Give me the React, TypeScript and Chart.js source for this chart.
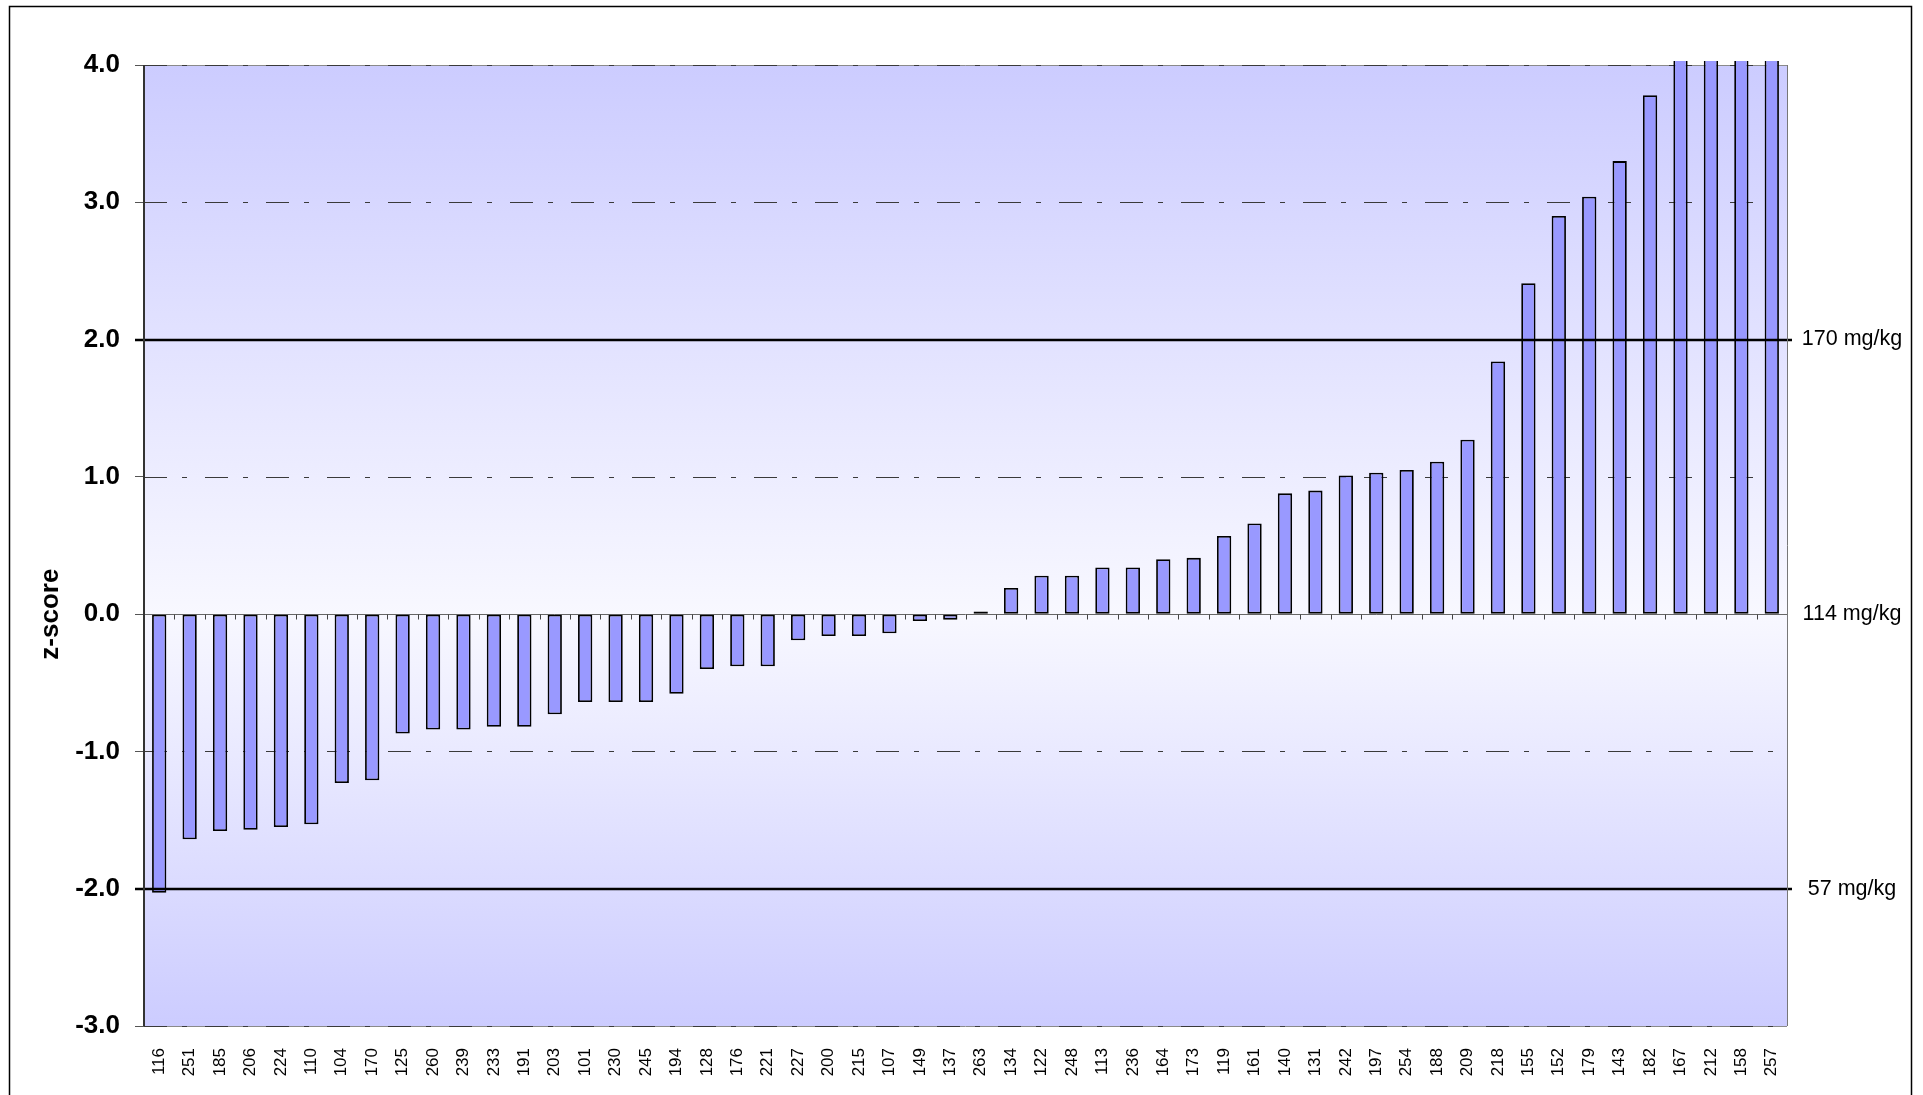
import React, { useEffect, useRef } from 'react';
import { Chart, registerables } from 'chart.js';

Chart.register(...registerables);

// ---- data ----
const categories = [
  '116', '251', '185', '206', '224', '110', '104', '170', '125', '260',
  '239', '233', '191', '203', '101', '230', '245', '194', '128', '176',
  '221', '227', '200', '215', '107', '149', '137', '263', '134', '122',
  '248', '113', '236', '164', '173', '119', '161', '140', '131', '242',
  '197', '254', '188', '209', '218', '155', '152', '179', '143', '182',
  '167', '212', '158', '257',
];

const zScores = [
  -2.03, -1.64, -1.58, -1.57, -1.55, -1.53, -1.23, -1.21, -0.87, -0.84,
  -0.84, -0.82, -0.82, -0.73, -0.64, -0.64, -0.64, -0.58, -0.40, -0.38,
  -0.38, -0.19, -0.16, -0.16, -0.14, -0.05, -0.04, 0.02, 0.19, 0.28,
  0.28, 0.34, 0.34, 0.40, 0.41, 0.57, 0.66, 0.88, 0.90, 1.01,
  1.03, 1.05, 1.11, 1.27, 1.84, 2.41, 2.90, 3.04, 3.30, 3.78,
  4.4, 4.9, 5.6, 6.8,
];

const yMin = -3;
const yMax = 4;
const dashedLevels = [4, 3, 1, -1, -3];
const limitLevels = [2, -2];
const refLevels = [2, 0, -2];
const refLabels = ['170 mg/kg', '114 mg/kg', '57 mg/kg'];
const yTitle = 'z-score';

const FONT = '"Liberation Sans", Arial, Helvetica, sans-serif';

export default function App() {
  const ref = useRef<HTMLCanvasElement>(null);

  useEffect(() => {
    const canvas = ref.current;
    if (!canvas) return;

    const deco = {
      id: 'deco',
      beforeDraw(chart: any) {
        const { ctx, chartArea: a } = chart;
        const y = chart.scales.y;
        ctx.save();
        ctx.fillStyle = '#ffffff';
        ctx.fillRect(0, 0, chart.width, chart.height);
        const g = ctx.createLinearGradient(0, a.top, 0, a.bottom);
        const zf = (y.getPixelForValue(0) - a.top) / (a.bottom - a.top);
        g.addColorStop(0, '#CCCCFF');
        g.addColorStop(zf, '#F8F8FF');
        g.addColorStop(1, '#CCCCFF');
        ctx.fillStyle = g;
        ctx.fillRect(a.left, a.top, a.right - a.left, a.bottom - a.top);
        ctx.restore();
      },
      beforeDatasetsDraw(chart: any) {
        const { ctx, chartArea: a } = chart;
        const y = chart.scales.y;
        const x = chart.scales.x;
        ctx.save();
        dashedLevels.forEach((v) => {
          const py = Math.round(y.getPixelForValue(v)) + 0.5;
          if (v === yMax || v === yMin) {
            ctx.setLineDash([]);
            ctx.strokeStyle = '#8a8a8a';
            ctx.lineWidth = 1;
            ctx.beginPath();
            ctx.moveTo(a.left, py);
            ctx.lineTo(a.right, py);
            ctx.stroke();
          }
          ctx.setLineDash([23, 15, 5, 18]);
          ctx.strokeStyle = '#3a3a3a';
          ctx.lineWidth = 1;
          ctx.beginPath();
          ctx.moveTo(a.left, py);
          ctx.lineTo(a.right, py);
          ctx.stroke();
        });
        ctx.setLineDash([]);
        const p0 = Math.round(y.getPixelForValue(0)) + 0.5;
        ctx.strokeStyle = '#666666';
        ctx.lineWidth = 1;
        ctx.beginPath();
        ctx.moveTo(a.left, p0);
        ctx.lineTo(a.right, p0);
        ctx.stroke();
        const n = categories.length;
        const step = (x.right - x.left) / n;
        ctx.strokeStyle = '#444444';
        ctx.beginPath();
        for (let i = 1; i < n; i++) {
          const px = Math.round(x.getPixelForTick(i) - step / 2) + 0.5;
          ctx.moveTo(px, p0);
          ctx.lineTo(px, p0 + 5);
        }
        ctx.stroke();
        ctx.restore();
      },
      afterDatasetsDraw(chart: any) {
        const { ctx, chartArea: a } = chart;
        const y = chart.scales.y;
        ctx.save();
        ctx.strokeStyle = '#000000';
        ctx.lineWidth = 2.5;
        limitLevels.forEach((v) => {
          const py = Math.round(y.getPixelForValue(v));
          ctx.beginPath();
          ctx.moveTo(a.left - 9, py);
          ctx.lineTo(a.right + 5, py);
          ctx.stroke();
        });
        ctx.strokeStyle = '#333333';
        ctx.lineWidth = 2;
        ctx.beginPath();
        ctx.moveTo(a.left, a.top);
        ctx.lineTo(a.left, a.bottom);
        ctx.stroke();
        ctx.strokeStyle = '#777777';
        ctx.lineWidth = 1;
        ctx.beginPath();
        ctx.moveTo(a.right + 0.5, a.top);
        ctx.lineTo(a.right + 0.5, a.bottom);
        ctx.stroke();
        ctx.fillStyle = '#000000';
        ctx.font = `21.5px ${FONT}`;
        ctx.textAlign = 'center';
        ctx.textBaseline = 'middle';
        refLevels.forEach((v, i) => {
          ctx.fillText(refLabels[i], a.right + 65, y.getPixelForValue(v));
        });
        ctx.save();
        ctx.translate(51, y.getPixelForValue(0));
        ctx.rotate(-Math.PI / 2);
        ctx.font = `bold 26px ${FONT}`;
        ctx.textAlign = 'center';
        ctx.textBaseline = 'middle';
        ctx.fillText(yTitle, 0, 0);
        ctx.restore();
        ctx.strokeStyle = '#000000';
        ctx.lineWidth = 1.5;
        ctx.strokeRect(9.5, 6.5, 1902, 1110);
        ctx.restore();
      },
    };

    const chart = new Chart(canvas, {
      type: 'bar',
      data: {
        labels: categories,
        datasets: [
          {
            data: zScores,
            backgroundColor: '#9999FF',
            borderColor: '#000000',
            borderWidth: 1.8,
            borderSkipped: false,
            barPercentage: 0.47,
            categoryPercentage: 1,
            clip: { left: 0, top: 4, right: 0, bottom: 0 },
          } as any,
        ],
      },
      options: {
        responsive: false,
        animation: false,
        devicePixelRatio: 1,
        layout: { padding: { left: 0, top: 65, right: 136, bottom: 0 } },
        plugins: {
          legend: { display: false },
          tooltip: { enabled: false },
          title: { display: false },
        },
        scales: {
          x: {
            type: 'category',
            offset: true,
            grid: { display: false },
            border: { display: false },
            ticks: {
              autoSkip: false,
              minRotation: 90,
              maxRotation: 90,
              padding: 14,
              color: '#000000',
              font: { family: FONT, size: 17 },
            },
            afterFit: (scale: any) => {
              scale.height = 69;
            },
          },
          y: {
            type: 'linear',
            min: yMin,
            max: yMax,
            grid: {
              drawOnChartArea: false,
              drawTicks: true,
              tickLength: 9,
              color: '#555555',
              lineWidth: 1,
            },
            border: { display: false },
            ticks: {
              stepSize: 1,
              padding: 15,
              color: '#000000',
              font: { family: FONT, size: 26, weight: 'bold' },
              callback: (v: any) => Number(v).toFixed(1),
            },
            afterFit: (scale: any) => {
              scale.width = 144;
            },
          },
        },
      },
      plugins: [deco],
    } as any);

    return () => chart.destroy();
  }, []);

  return (
    <div style={{ position: 'fixed', left: 0, top: 0, width: 1923, height: 1095, background: '#fff' }}>
      <canvas ref={ref} width={1923} height={1095} style={{ display: 'block' }} />
    </div>
  );
}
